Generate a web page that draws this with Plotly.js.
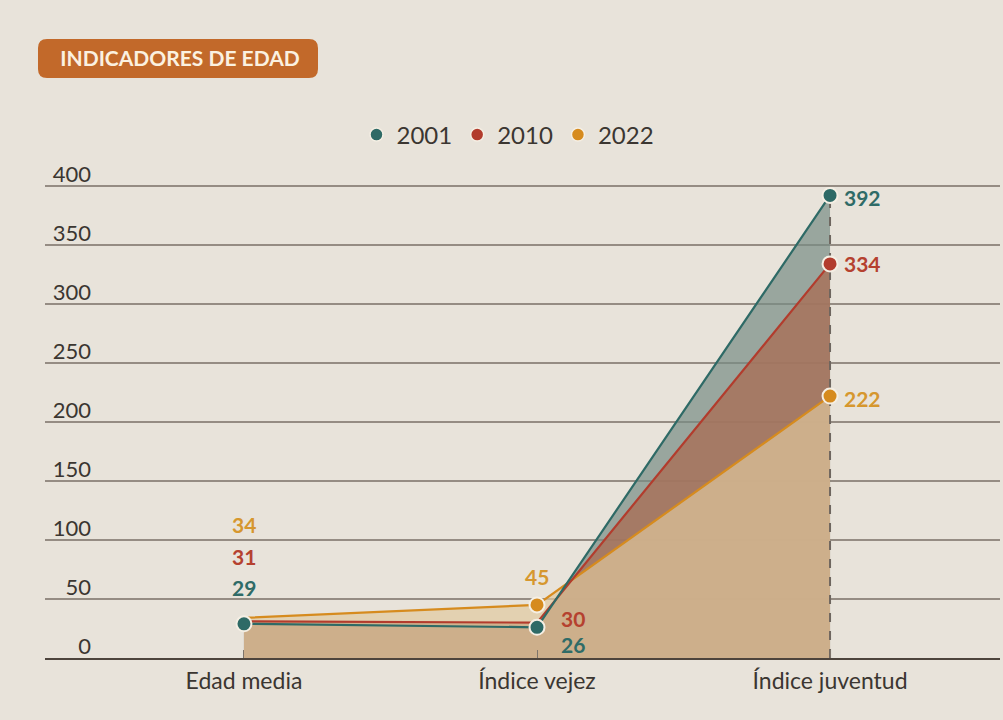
<!DOCTYPE html>
<html>
<head>
<meta charset="utf-8">
<script src="https://cdn.plot.ly/plotly-3.0.1.min.js"></script>
<style>
  html, body { margin: 0; padding: 0; background: #e8e3da; }
  #chart { width: 1003px; height: 720px; }
</style>
</head>
<body>
<div id="chart"></div>
<script>
// ---- data ----
const categories = ['Edad media', 'Índice vejez', 'Índice juventud'];
const seriesNames = ['2001', '2010', '2022'];
const v2001 = [29, 26, 392];
const v2010 = [31, 30, 334];
const v2022 = [34, 45, 222];
const yTicks = [0, 50, 100, 150, 200, 250, 300, 350, 400];
const titleText = 'INDICADORES DE EDAD';

// ---- styles ----
const FONT = 'Lato, "Open Sans", sans-serif';
const lineColors = { '2001': '#2e6a66', '2010': '#b23c2d', '2022': '#d68b1e' };
const labelColors = { '2001': '#2f6b67', '2010': '#b5412f', '2022': '#d6972e' };
const fillColors = {
  '2001': 'rgba(120,140,132,0.70)',
  '2010': 'rgba(167,114,91,0.85)',
  '2022': 'rgba(224,201,158,0.68)'
};
const markerSizes = { '2001': [15, 15, 15], '2010': [0, 0, 15], '2022': [0, 15, 15] };
const values = { '2001': v2001, '2010': v2010, '2022': v2022 };
// label offsets (px) per series per category: [xshift, yshift]
const labelOffsets = {
  '2001': [[0, 36], [36, -17], [32, -2]],
  '2010': [[0, 65], [36, 4], [32, 0]],
  '2022': [[0, 93], [0, 28], [32, -2]]
};

// plot-area geometry
const M = { l: 45, r: 3, t: 184, b: 62 };
const W = 1003, H = 720;
const PW = W - M.l - M.r, PH = H - M.t - M.b;
const PX_PER_UNIT = 1.18;
const yTop = PH / PX_PER_UNIT;
const pxX = x => (x - M.l) / PW;
const pxY = y => (H - M.b - y) / PH;

const traces = [];
seriesNames.forEach(s => {
  traces.push({
    x: categories, y: values[s], type: 'scatter', mode: 'none',
    fill: 'tozeroy', fillcolor: fillColors[s],
    showlegend: false, hoverinfo: 'skip'
  });
});
const lastIdx = categories.length - 1;
const lastMax = Math.max(v2001[lastIdx], v2010[lastIdx], v2022[lastIdx]);
traces.push({
  x: [categories[lastIdx], categories[lastIdx]], y: [0, lastMax],
  type: 'scatter', mode: 'lines',
  line: { color: '#6e665f', width: 2, dash: 'dash' },
  showlegend: false, hoverinfo: 'skip'
});
['2022', '2010', '2001'].forEach(s => {
  traces.push({
    x: categories, y: values[s], type: 'scatter', mode: 'lines+markers',
    line: { color: lineColors[s], width: 2.2 },
    marker: { color: lineColors[s], size: markerSizes[s], opacity: 1,
              line: { color: '#f5efe4', width: 2 } },
    showlegend: false, name: s
  });
});
seriesNames.forEach(s => {
  traces.push({
    x: [null], y: [null], type: 'scatter', mode: 'markers', name: s,
    marker: { color: lineColors[s], size: 13, opacity: 1, line: { color: '#f5efe4', width: 1.5 } },
    showlegend: true, hoverinfo: 'skip'
  });
});

const annotations = [];
seriesNames.forEach(s => {
  values[s].forEach((v, i) => {
    annotations.push({
      x: categories[i], y: v, xref: 'x', yref: 'y',
      text: String(v), showarrow: false,
      xanchor: 'center', yanchor: 'middle',
      xshift: labelOffsets[s][i][0], yshift: labelOffsets[s][i][1],
      font: { family: FONT, size: 21, color: labelColors[s], weight: 'bold' }
    });
  });
});

function badgePath(x0, y0, x1, y1, r) {
  const P = (x, y) => pxX(x).toFixed(5) + ',' + pxY(y).toFixed(5);
  return 'M' + P(x0 + r, y0) + ' L' + P(x1 - r, y0) + ' Q' + P(x1, y0) + ' ' + P(x1, y0 + r) +
    ' L' + P(x1, y1 - r) + ' Q' + P(x1, y1) + ' ' + P(x1 - r, y1) +
    ' L' + P(x0 + r, y1) + ' Q' + P(x0, y1) + ' ' + P(x0, y1 - r) +
    ' L' + P(x0, y0 + r) + ' Q' + P(x0, y0) + ' ' + P(x0 + r, y0) + ' Z';
}

const layout = {
  width: W, height: H,
  paper_bgcolor: '#e8e3da', plot_bgcolor: '#e8e3da',
  margin: { l: M.l, r: M.r, t: M.t, b: M.b, autoexpand: false },
  font: { family: FONT, color: '#3b3631' },
  title: {
    text: titleText, xref: 'container', yref: 'container',
    x: 180 / W, y: 1 - 59 / H, xanchor: 'center', yanchor: 'middle',
    font: { family: FONT, size: 21, color: '#fbf1e0', weight: 'bold' }
  },
  showlegend: true,
  legend: {
    orientation: 'h', x: pxX(508), xanchor: 'center', y: pxY(135), yanchor: 'middle',
    font: { family: FONT, size: 24, color: '#3b3631' },
    bgcolor: 'rgba(0,0,0,0)', traceorder: 'normal'
  },
  xaxis: {
    type: 'category', range: [-0.679, 2.58], fixedrange: true,
    showgrid: false, zeroline: false,
    showline: true, linecolor: '#4d443c', linewidth: 2,
    ticks: 'inside', ticklen: 8, tickwidth: 1, tickcolor: '#7d746b',
    ticklabelstandoff: 1,
    tickfont: { family: FONT, size: 23, color: '#3b3631' }
  },
  yaxis: {
    range: [0, yTop], fixedrange: true, automargin: false,
    tickmode: 'array', tickvals: yTicks, ticktext: yTicks.map(String),
    showgrid: true, gridcolor: '#958c83', gridwidth: 1.5,
    zeroline: false, showline: false, ticks: '',
    ticklabelposition: 'outside', ticklabelstandoff: -47, ticklabelshift: -12,
    tickfont: { family: FONT, size: 22, color: '#3b3631' }
  },
  shapes: [{
    type: 'path', xref: 'paper', yref: 'paper', layer: 'above',
    path: badgePath(38, 39, 318, 78, 9),
    fillcolor: '#c2692a', line: { width: 0 }
  }],
  annotations: annotations,
  hovermode: false
};

Plotly.newPlot('chart', traces, layout, { displayModeBar: false, staticPlot: true });
</script>
</body>
</html>
